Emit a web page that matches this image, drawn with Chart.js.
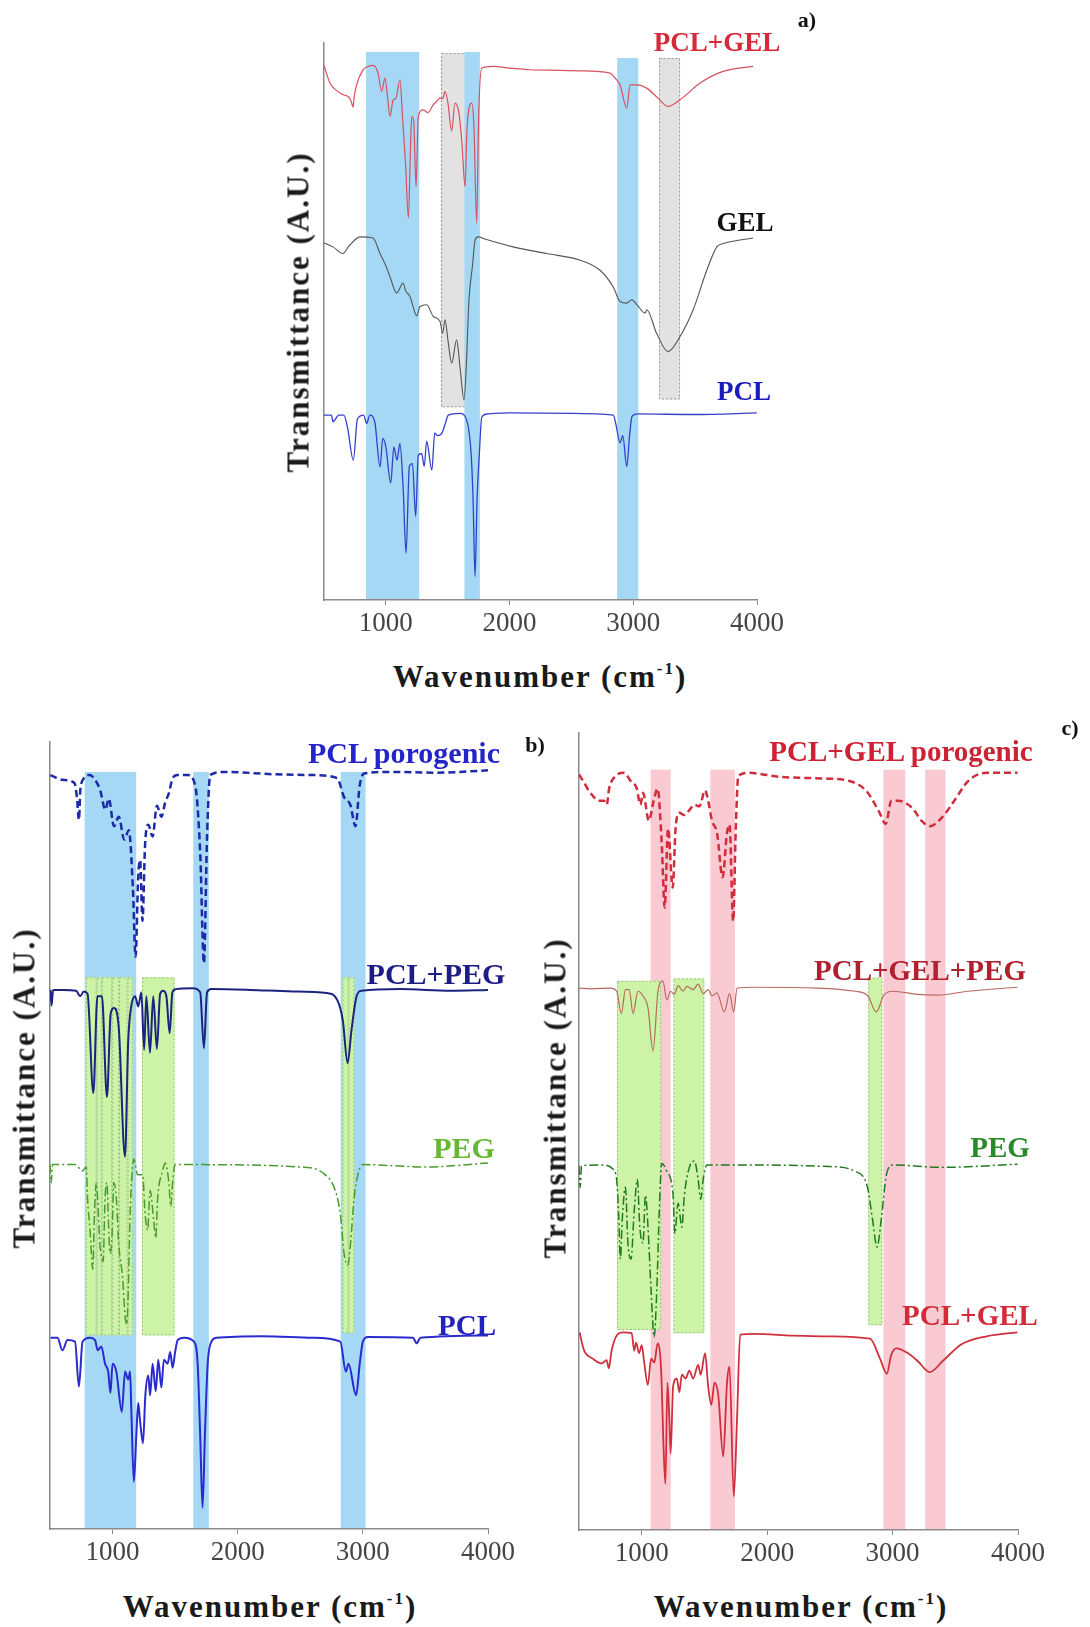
<!DOCTYPE html>
<html>
<head>
<meta charset="utf-8">
<script src="https://cdn.jsdelivr.net/npm/chart.js@4.4.1/dist/chart.umd.min.js"></script>
<style>
    body { margin: 0; background: #fff; }
    #page { position: relative; width: 1090px; height: 1627px; overflow: hidden; font-family: 'Liberation Serif', 'Times New Roman', serif; }
    .panel { position: absolute; }
    .lbl { position: absolute; transform: translate(-50%, -50%); font-weight: bold; white-space: nowrap; line-height: 1; }
    .xtitle, .ytitle { position: absolute; font-weight: bold; font-size: 31px; letter-spacing: 2px; color: #1a1a1a; white-space: nowrap; line-height: 1; }
    .xtitle { transform: translate(-50%, -50%); }
    .ytitle { transform: translate(-50%, -50%) rotate(-90deg); }
    sup { font-size: 0.55em; vertical-align: 0.75em; line-height: 0; }
</style>
</head>
<body>
<div id="page">
    <div class="panel" style="left:284px; top:0; width:520px; height:640px"><canvas id="chartA"></canvas></div>
    <div class="panel" style="left:10px; top:700px; width:530px; height:869px"><canvas id="chartB"></canvas></div>
    <div class="panel" style="left:539px; top:700px; width:545px; height:870px"><canvas id="chartC"></canvas></div>

    <div class="lbl" style="left:807px; top:20px; font-size:22px; color:#111">a)</div>
    <div class="lbl" style="left:717px; top:42px; font-size:27px; color:#d42a3a">PCL+GEL</div>
    <div class="lbl" style="left:745px; top:222px; font-size:27px; color:#111">GEL</div>
    <div class="lbl" style="left:744px; top:391px; font-size:27px; color:#1a1ac0">PCL</div>
    <div class="xtitle" style="left:540px; top:676px">Wavenumber (cm<sup>-1</sup>)</div>
    <div class="ytitle" style="left:298px; top:312px">Transmittance (A.U.)</div>

    <div class="lbl" style="left:535px; top:745px; font-size:22px; color:#111">b)</div>
    <div class="lbl" style="left:404px; top:753px; font-size:30px; color:#2424c8">PCL porogenic</div>
    <div class="lbl" style="left:436px; top:974px; font-size:30px; color:#1c1c86">PCL+PEG</div>
    <div class="lbl" style="left:464px; top:1148px; font-size:30px; color:#66b832">PEG</div>
    <div class="lbl" style="left:467px; top:1325px; font-size:29px; color:#2222c0">PCL</div>
    <div class="xtitle" style="left:270px; top:1606px">Wavenumber (cm<sup>-1</sup>)</div>
    <div class="ytitle" style="left:24px; top:1088px">Transmittance (A.U.)</div>

    <div class="lbl" style="left:1070px; top:728px; font-size:22px; color:#111">c)</div>
    <div class="lbl" style="left:901px; top:751px; font-size:29px; color:#cc2233">PCL+GEL porogenic</div>
    <div class="lbl" style="left:920px; top:970px; font-size:29px; color:#b0202e">PCL+GEL+PEG</div>
    <div class="lbl" style="left:1000px; top:1147px; font-size:29px; color:#2a8a2a">PEG</div>
    <div class="lbl" style="left:970px; top:1315px; font-size:29px; color:#d42a3a">PCL+GEL</div>
    <div class="xtitle" style="left:801px; top:1606px">Wavenumber (cm<sup>-1</sup>)</div>
    <div class="ytitle" style="left:555px; top:1098px">Transmittance (A.U.)</div>
</div>

<script>
// wavenumber axis
const X_MIN = 500;
const X_MAX = 4000;
const X_TICKS = [1000, 2000, 3000, 4000];

// bands: [from, to, top, bottom(optional, default 0)] in axis units
const A_BLUE_BANDS = [[840, 1270, 98.4], [1635, 1760, 98.4], [2870, 3040, 97.3]];
const A_GRAY_BANDS = [[1446, 1656, 98.2, 34.6], [3208, 3378, 97.3, 36]];
const B_BLUE_BANDS = [[777, 1189, 96.2], [1645, 1769, 96.2], [2823, 3021, 96.2]];
const B_GREEN_BANDS = [[786, 873, 70.1, 24.6], [873, 914, 70.1, 24.6], [914, 997, 70.1, 24.6], [997, 1052, 70.1, 24.6],
    [1052, 1120, 70.1, 24.6], [1120, 1161, 70.1, 24.6], [1235, 1495, 70.1, 24.6], [2837, 2885, 70.1, 24.9], [2885, 2932, 70.1, 24.9]];
const C_PINK_BANDS = [[1071, 1231, 95.4], [1547, 1743, 95.4], [2927, 3101, 95.4], [3260, 3422, 95.4]];
const C_GREEN_BANDS = [[803, 1155, 68.9, 25.1], [1253, 1499, 69.2, 24.7], [2806, 2918, 69.3, 25.7]];

// spectra: [wavenumber, transmittance (offset, A.U.)]
const A_PCL_GEL = [[500,96],[548,92.8],[600,91.5],[654,90.7],[700,90.3],[720,89.5],[735,88.5],[745,90.5],[764,92.5],[810,95],[845,95.7],
    [898,96],[937,94.6],[966,91.3],[993,93.7],[1015,90],[1034,86.8],[1059,89.8],[1080,90],[1114,93.4],[1136,86.2],[1160,78],[1182,68.6],
    [1200,82],[1209,86.8],[1225,86],[1244,74.2],[1262,86.8],[1303,88],[1340,87.5],[1383,88.9],[1410,89.5],[1437,90.1],[1460,90],[1478,91.3],
    [1500,89.5],[1532,84.2],[1559,89.2],[1590,87.5],[1615,82],[1640,74.2],[1655,84.2],[1694,89.2],[1712,85],[1734,67.7],[1750,86.8],
    [1775,95.5],[1866,95.8],[2000,95.5],[2165,95.2],[2400,95.1],[2570,95],[2812,94.6],[2860,93.5],[2893,92.5],[2947,88.3],[2974,92.5],
    [3028,92.5],[3109,91.9],[3200,90.1],[3281,88.6],[3378,89.8],[3540,92.8],[3726,94.9],[3968,95.8]];
const A_GEL = [[500,64.1],[573,63.4],[654,62.2],[700,63.5],[791,65.2],[896,65],[953,62.2],[1000,60],[1034,58],[1088,55.1],[1139,56.9],
    [1160,55.5],[1195,54.5],[1236,51.5],[1250,51],[1276,52.7],[1330,53],[1384,50.9],[1438,50],[1459,47.9],[1478,50.3],[1505,46.1],
    [1532,42.5],[1572,46.7],[1599,41.9],[1632,35.9],[1650,42],[1672,53.9],[1700,60],[1721,64.6],[1746,65.2],[1800,64.8],[2028,63.4],
    [2300,62.2],[2570,61],[2731,59.2],[2838,56.2],[2893,53.6],[2947,53.3],[2987,53.9],[3030,53],[3095,51.5],[3109,52.1],[3188,47.9],
    [3281,44.6],[3378,47.3],[3484,52.1],[3594,59.2],[3675,63.4],[3727,64],[3968,65]];
const A_PCL = [[500,33.2],[560,33.2],[573,32],[620,33.2],[660,33.2],[690,31],[737,25.1],[770,32.5],[820,33.2],[845,31.7],[870,33.2],
    [910,32],[953,23.9],[975,29],[1000,27.5],[1039,21],[1065,27.5],[1090,25.1],[1114,28.1],[1140,20],[1163,8.4],[1190,24],[1215,24.5],
    [1241,15],[1262,26],[1289,26.3],[1310,24],[1330,28.5],[1372,23.3],[1395,30],[1415,29.5],[1452,29.9],[1478,31.5],[1505,33.2],
    [1600,33.5],[1653,32.3],[1690,26],[1705,18],[1721,4.2],[1737,18],[1755,26],[1775,32.8],[1820,33.4],[2000,33.6],[2500,33.5],
    [2839,33.2],[2860,31.5],[2893,28.2],[2915,29.5],[2947,24],[2970,29.5],[2990,33],[3040,33.4],[3500,33.3],[3998,33.6]];

const B_PCL_PORO = [[503,95.8],[600,95.2],[695,94.8],[715,93],[731,90.1],[745,94.5],[819,95.8],[860,95.2],[901,93.9],[942,91.4],
    [970,92.8],[1011,89.3],[1050,90.5],[1093,87.6],[1130,88.8],[1162,81.6],[1184,72.7],[1205,83],[1220,85],[1239,77.3],[1260,87],
    [1285,89.5],[1320,88],[1354,91.9],[1390,90.5],[1420,92.3],[1450,93.5],[1478,95.3],[1520,95.8],[1601,95.8],[1660,94.5],[1700,86],
    [1730,71.9],[1755,88],[1780,95.8],[1900,96.2],[2301,95.9],[2600,95.8],[2795,95.4],[2850,93],[2900,92],[2941,89.3],[2975,94.5],
    [3010,96],[3200,96.2],[3600,96.1],[4003,96.4]];
const B_PCL_PEG = [[505,68.5],[512,66.5],[525,68.5],[600,68.5],[709,68.4],[741,67.7],[770,68.3],[800,68],[846,55.4],[879,67.7],
    [915,67.7],[955,54.9],[985,65.5],[1011,66.2],[1050,63.6],[1099,47.3],[1125,62],[1148,66.3],[1180,67.7],[1205,66.4],[1230,68.2],
    [1252,60.9],[1270,67.7],[1299,60.5],[1325,67.7],[1354,61],[1380,68],[1405,68.4],[1430,67.7],[1456,63],[1478,68.2],[1505,68.6],
    [1640,68.7],[1700,68.2],[1730,61.1],[1755,68.2],[1790,68.6],[2100,68.5],[2436,68.3],[2713,68.1],[2796,67.2],[2840,64.6],
    [2878,59.2],[2910,63.5],[2950,67.7],[2990,68.4],[3300,68.6],[3700,68.4],[4000,68.5]];
const B_PEG = [[500,46.3],[510,44],[520,46.3],[700,46.3],[760,45.5],[790,46],[800,42],[820,38],[842,33],[855,40],[870,44],[880,42],
    [900,36],[925,34],[940,42],[955,44],[965,40],[980,35],[995,37],[1010,44],[1030,42],[1050,36],[1080,32],[1100,27],[1115,26],
    [1125,30],[1140,40],[1155,45],[1170,47],[1200,45],[1240,45],[1260,40],[1280,38],[1300,43],[1330,39],[1345,37],[1360,42],[1400,45.5],
    [1420,46.5],[1450,44],[1465,41],[1480,44],[1500,46.3],[1600,46.3],[2500,46],[2700,45],[2780,43],[2820,40],[2850,35],[2880,33.5],
    [2900,36],[2930,42],[2960,45],[3000,46.3],[3500,46],[4000,46.5]];
const B_PCL = [[505,24.3],[560,24.3],[599,22.7],[640,24],[700,23.8],[731,18.1],[760,23.8],[819,24.3],[860,24],[881,22.7],[910,23.2],
    [940,21],[965,20],[983,17.3],[1000,21],[1030,20],[1074,14.9],[1100,20],[1125,19],[1140,20],[1150,15],[1170,6],[1190,12],[1205,16],
    [1218,14],[1243,10.9],[1262,17],[1285,19.5],[1300,17],[1320,21],[1345,17.5],[1365,21.5],[1390,18],[1410,21.5],[1440,21],[1460,22.5],
    [1480,20.5],[1500,22.5],[1520,24],[1573,24.3],[1650,23.8],[1680,21],[1700,12],[1719,2.7],[1738,12],[1760,21],[1790,23.8],[1830,24.3],
    [2200,24.5],[2600,24.3],[2820,23.8],[2864,20],[2885,21],[2946,17],[2975,21],[3000,23.8],[3040,24.4],[3400,24.3],[3430,23.6],
    [3460,24.3],[4000,24.6]];

const C_PCL_GEL_PORO = [[500,94.8],[540,93.8],[581,92.7],[665,91.5],[700,91.5],[721,91],[740,93],[791,94.6],[861,95],[910,94],
    [959,93.1],[990,91],[1010,92.5],[1057,89],[1095,91.5],[1127,93],[1160,86],[1183,78.1],[1210,88],[1247,80.6],[1270,88],[1300,90],
    [1340,89.7],[1379,90.3],[1420,91],[1460,90.8],[1505,92.8],[1530,91.5],[1560,89],[1600,87.5],[1645,81.9],[1680,87.5],[1700,88.5],
    [1729,76.4],[1750,88],[1770,94.6],[1850,95],[2100,94.5],[2428,94.3],[2650,94],[2792,92.7],[2890,90.2],[2946,88.6],[2990,91.5],
    [3044,91.5],[3156,90.6],[3230,89],[3296,88.3],[3400,89.5],[3492,91.5],[3604,94],[3750,95],[3996,95]];
const C_PCL_GEL_PEG = [[500,68],[600,67.9],[750,68],[800,67.6],[838,64.8],[870,67.8],[900,67.8],[931,64.8],[970,67.6],[1010,67],
    [1050,65.5],[1090,60.1],[1130,67.6],[1169,68.9],[1200,66.5],[1230,67.6],[1260,67.2],[1290,68.3],[1330,67.6],[1360,68.2],[1410,67.8],
    [1450,68.5],[1490,67.3],[1530,67.8],[1560,67],[1600,67.4],[1659,65],[1700,67.3],[1734,65],[1760,68],[1900,68.1],[2400,68],
    [2700,67.6],[2800,67.1],[2870,65],[2930,67.1],[3000,67.6],[3200,67.2],[3350,67.1],[3600,67.6],[3996,68.1]];
const C_PEG = [[500,45.7],[510,43],[520,45.7],[700,45.8],[770,45.3],[800,44],[815,40],[830,34],[845,39],[870,43],[890,36],[915,34],
    [940,40],[965,44],[985,38],[1010,36],[1030,42],[1050,38],[1075,30],[1099,24.2],[1120,30],[1140,40],[1160,46],[1200,45],[1250,42],
    [1264,37.2],[1290,41],[1320,38],[1340,42],[1380,45.5],[1420,46.3],[1450,44],[1470,41.5],[1490,44],[1520,45.8],[1800,45.8],
    [2500,45.6],[2700,45],[2800,43],[2840,39],[2876,35.5],[2910,39],[2950,44.5],[3000,45.8],[3400,45.5],[3996,45.9]];
const C_PCL_GEL = [[505,24.8],[539,22.6],[609,21.5],[679,20.9],[720,21.3],[738,20.3],[760,22.5],[805,24.5],[850,24.8],[920,24.7],
    [940,22.5],[955,23.5],[979,22.2],[1000,23.2],[1020,21],[1049,18.2],[1075,21.5],[1100,21],[1127,23.4],[1155,20],[1175,10],[1189,5.8],
    [1205,18.5],[1220,14],[1231,9.6],[1250,18],[1280,19],[1300,17.3],[1320,19.5],[1350,19],[1380,20],[1410,19],[1450,20.7],[1470,19.5],
    [1505,22.2],[1530,18],[1555,15.7],[1580,18.5],[1610,17],[1650,9.2],[1680,18.5],[1700,20.5],[1734,4.2],[1760,14],[1785,24.5],
    [1900,24.6],[2200,24.4],[2500,24.3],[2820,24],[2900,21.5],[2954,19.6],[2990,22],[3030,22.8],[3120,22.2],[3200,21.2],[3296,19.8],
    [3400,21.2],[3550,23.3],[3750,24.3],[3996,24.8]];

Chart.defaults.font.family = "'Liberation Serif', 'Times New Roman', serif";

const BLUE_FILL = 'rgb(164, 216, 244)';
const GRAY_FILL = 'rgb(226, 226, 226)';
const GREEN_FILL = 'rgb(204, 243, 166)';
const PINK_FILL = 'rgb(250, 202, 210)';
const DASH = [7, 4];
const DASH_DOT = [9, 3, 2, 3];

// draws the shaded regions behind everything, using the chart's own scales
const bandsPlugin = {
    id: 'bands',
    beforeDraw(chart, args, opts) {
        const { ctx, chartArea, scales: { x, y } } = chart;
        ctx.save();
        ctx.beginPath();
        ctx.rect(chartArea.left, chartArea.top, chartArea.width, chartArea.height);
        ctx.clip();
        (opts.groups || []).forEach(g => {
            g.bands.forEach(b => {
                const x0 = x.getPixelForValue(b[0]);
                const x1 = x.getPixelForValue(b[1]);
                const yTop = y.getPixelForValue(b[2]);
                const yBot = y.getPixelForValue(b.length > 3 ? b[3] : 0);
                ctx.fillStyle = g.fill;
                ctx.fillRect(x0, yTop, x1 - x0, yBot - yTop);
                if (g.border) {
                    ctx.setLineDash([2, 2]);
                    ctx.strokeStyle = g.border;
                    ctx.lineWidth = 1;
                    ctx.strokeRect(x0 + 0.5, yTop + 0.5, x1 - x0 - 1, yBot - yTop - 1);
                    ctx.setLineDash([]);
                }
            });
        });
        ctx.restore();
    }
};

function toXY(pairs) {
    return pairs.map(([x, y]) => ({ x, y }));
}

function makeDataset(pairs, color, width, dash) {
    return {
        data: toXY(pairs),
        borderColor: color,
        borderWidth: width,
        borderDash: dash || [],
        pointRadius: 0,
        fill: false,
        cubicInterpolationMode: 'monotone'
    };
}

function getOptions(padding, groups) {
    return {
        responsive: true,
        maintainAspectRatio: false,
        animation: false,
        events: [],
        layout: { padding: padding },
        plugins: {
            legend: { display: false },
            tooltip: { enabled: false },
            bands: { groups: groups }
        },
        scales: {
            x: {
                type: 'linear',
                min: X_MIN,
                max: X_MAX,
                afterBuildTicks: s => { s.ticks = X_TICKS.map(v => ({ value: v })); },
                afterFit: s => { s.height = 40; },
                grid: { drawOnChartArea: false, tickLength: 5, color: '#888' },
                border: { color: '#8a8a8a', width: 1.5 },
                ticks: {
                    color: '#444',
                    font: { size: 27 },
                    padding: 3,
                    maxRotation: 0,
                    autoSkip: false,
                    callback: v => String(v)
                }
            },
            y: {
                min: 0,
                max: 100,
                afterFit: s => { s.width = 0; },
                grid: { drawOnChartArea: false, drawTicks: false },
                border: { color: '#8a8a8a', width: 1.5 },
                ticks: { display: false }
            }
        }
    };
}

function makeChart(id, datasets, padding, groups) {
    return new Chart(document.getElementById(id), {
        type: 'line',
        data: { datasets: datasets },
        options: getOptions(padding, groups),
        plugins: [bandsPlugin]
    });
}

makeChart('chartA', [
    makeDataset(A_PCL_GEL, '#d9505e', 1.2),
    makeDataset(A_GEL, '#555', 1.1),
    makeDataset(A_PCL, '#3440c8', 1.3)
], { left: 40, right: 47, top: 43, bottom: 0 }, [
    { bands: A_GRAY_BANDS, fill: GRAY_FILL, border: '#999' },
    { bands: A_BLUE_BANDS, fill: BLUE_FILL }
]);

makeChart('chartB', [
    makeDataset(B_PCL_PORO, '#1c2aa8', 2.5, DASH),
    makeDataset(B_PCL_PEG, '#1a237e', 2),
    makeDataset(B_PEG, '#4a9a30', 1.5, DASH_DOT),
    makeDataset(B_PCL, '#2a2ad0', 2)
], { left: 40, right: 52, top: 42, bottom: 0 }, [
    { bands: B_BLUE_BANDS, fill: BLUE_FILL },
    { bands: B_GREEN_BANDS, fill: GREEN_FILL, border: '#9cbf80' }
]);

makeChart('chartC', [
    makeDataset(C_PCL_GEL_PORO, '#d02c3c', 2.5, DASH),
    makeDataset(C_PCL_GEL_PEG, '#b86a60', 1.2),
    makeDataset(C_PEG, '#207a20', 1.5, DASH_DOT),
    makeDataset(C_PCL_GEL, '#d0303c', 1.8)
], { left: 40, right: 66, top: 33, bottom: 0 }, [
    { bands: C_PINK_BANDS, fill: PINK_FILL },
    { bands: C_GREEN_BANDS, fill: GREEN_FILL, border: '#9cbf80' }
]);
</script>
</body>
</html>
